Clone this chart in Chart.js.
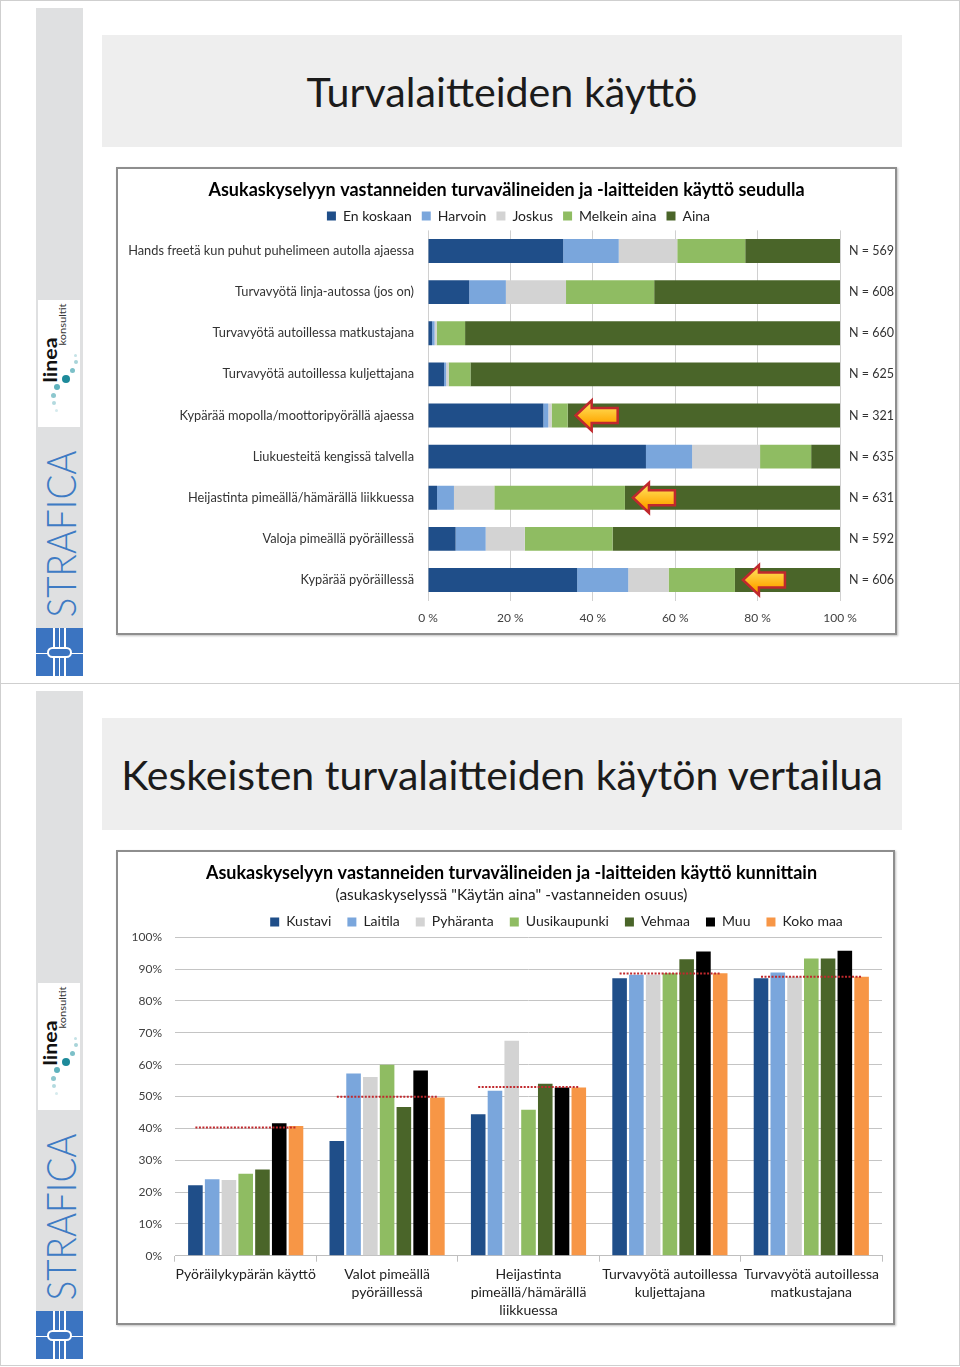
<!DOCTYPE html>
<html lang="fi">
<head>
<meta charset="utf-8">
<title>Turvalaitteiden käyttö</title>
<script src="https://cdn.jsdelivr.net/npm/chart.js@4.4.1/dist/chart.umd.min.js"></script>
<style>
  html, body { margin: 0; padding: 0; background: #fff; }
  body { width: 960px; height: 1367px; position: relative; overflow: hidden; font-family: Lato, "Noto Sans", sans-serif; }
  .slide { position: absolute; left: 0; width: 958px; height: 682px; border: 1px solid #cfcfcf; }
  .abs { position: absolute; }
  .kehys { position: absolute; background: #fff; border: 2px solid #8e8e8e; box-shadow: 1px 1px 2px rgba(0,0,0,0.25); }
  canvas { display: block; }
</style>
</head>
<body>
<div class="slide" style="top:0"></div>
<div class="slide" style="top:683px; border-top:none"></div>
<div id="deco"></div>
<div class="kehys" style="left:116px; top:167px; width:777px; height:464px;"><canvas id="c1" width="777" height="464"></canvas></div>
<div class="kehys" style="left:116px; top:850px; width:775px; height:471px;"><canvas id="c2" width="775" height="471"></canvas></div>

<script>
// --- kuva 1: turvavälineiden käyttö seudulla (%)
const otsikko1 = 'Asukaskyselyyn vastanneiden turvavälineiden ja -laitteiden käyttö seudulla';
const kategoriat1 = [
  'Hands freetä kun puhut puhelimeen autolla ajaessa',
  'Turvavyötä linja-autossa (jos on)',
  'Turvavyötä autoillessa matkustajana',
  'Turvavyötä autoillessa kuljettajana',
  'Kypärää mopolla/moottoripyörällä ajaessa',
  'Liukuesteitä kengissä talvella',
  'Heijastinta pimeällä/hämärällä liikkuessa',
  'Valoja pimeällä pyöräillessä',
  'Kypärää pyöräillessä'
];
const sarjat1 = ['En koskaan', 'Harvoin', 'Joskus', 'Melkein aina', 'Aina'];
const enKoskaan   = [32.8, 10.0, 1.0, 3.9, 28.0, 52.9, 2.2, 6.7, 36.2];
const harvoin     = [13.5, 8.9, 0.6, 0.5, 1.2, 11.2, 4.1, 7.3, 12.4];
const joskus      = [14.2, 14.6, 0.5, 0.6, 0.8, 16.5, 9.8, 9.5, 9.8];
const melkeinAina = [16.5, 21.4, 6.9, 5.3, 3.9, 12.4, 31.7, 21.3, 16.1];
const aina        = [23.0, 45.1, 91.0, 89.7, 66.1, 7.0, 52.2, 55.2, 25.5];
const nVastaajia  = [569, 608, 660, 625, 321, 635, 631, 592, 606];
const nuoliRivit  = [4, 6, 8];
const xTicks1     = [0, 20, 40, 60, 80, 100];

// --- kuva 2: "käytän aina" kunnittain (%)
const otsikko2 = 'Asukaskyselyyn vastanneiden turvavälineiden ja -laitteiden käyttö kunnittain';
const alaotsikko2 = '(asukaskyselyssä "Käytän aina" -vastanneiden osuus)';
const kategoriat2 = [
  ['Pyöräilykypärän käyttö'],
  ['Valot pimeällä', 'pyöräillessä'],
  ['Heijastinta', 'pimeällä/hämärällä', 'liikkuessa'],
  ['Turvavyötä autoillessa', 'kuljettajana'],
  ['Turvavyötä autoillessa', 'matkustajana']
];
const sarjat2 = ['Kustavi', 'Laitila', 'Pyhäranta', 'Uusikaupunki', 'Vehmaa', 'Muu', 'Koko maa'];
const kustavi      = [22.1, 36.0, 44.4, 87.1, 87.1];
const laitila      = [24.0, 57.2, 51.8, 88.2, 88.9];
const pyharanta    = [23.8, 56.1, 67.5, 88.2, 87.6];
const uusikaupunki = [25.7, 60.0, 45.8, 88.7, 93.3];
const vehmaa       = [27.1, 46.7, 54.0, 93.1, 93.3];
const muu          = [41.6, 58.2, 52.8, 95.5, 95.8];
const kokoMaa      = [40.7, 49.7, 52.8, 88.7, 87.6];
const seutu        = [40.3, 49.9, 53.0, 88.6, 87.6];   // punainen pisteviiva

const varit1 = ['#1f4e89', '#7aa6dc', '#d3d3d3', '#8fbc62', '#4a6529'];
const varit2 = ['#1f4e89', '#7aa6dc', '#d3d3d3', '#8fbc62', '#4a6529', '#000000', '#f79646'];

const FONT = 'Lato, "Noto Sans", sans-serif';
Chart.defaults.font.family = FONT;
Chart.defaults.color = '#404040';

// ---------- slide decoration ----------
const deco = document.getElementById('deco');
const mctx = document.createElement('canvas').getContext('2d');
function textW(font, t) { mctx.font = font; return mctx.measureText(t).width; }
function add(css, text) {
  const e = document.createElement('div');
  e.className = 'abs';
  e.style.cssText = css;
  if (text) e.textContent = text;
  deco.appendChild(e);
  return e;
}
function rotText(t, cx, cy, size, weight, color, len) {
  const f = `${weight} ${size}px ${FONT}`;
  const w = textW(f, t);
  const s = len / w;
  add(`left:${cx - w / 2}px;top:${cy - size / 2}px;width:${w}px;height:${size}px;font:${f};line-height:${size}px;` +
      `color:${color};white-space:nowrap;transform:rotate(-90deg) scaleX(${s});`, t);
}
function slide(dy, title, titleWidth) {
  add(`left:36px;top:${8 + dy}px;width:47px;height:620px;background:#dfe0e1;`);
  // linea konsultit
  add(`left:38px;top:${300 + dy}px;width:42px;height:127px;background:#fff;`);
  rotText('linea', 50, 359.5 + dy, 18, 'bold', '#111', 45);
  rotText('konsultit', 62.5, 324 + dy, 9, 'normal', '#333', 42);
  [[75, 355, 1.5, '#c4e2e6'], [75.7, 362.3, 2, '#a8d4d9'], [72.7, 370.7, 2.6, '#7cc0c8'],
   [65.7, 379.3, 4, '#1d8a9a'], [56.7, 386.7, 3.2, '#5fb2bd'], [53.3, 395, 2.5, '#8cc7ce'],
   [54, 403.3, 2, '#b3dadf'], [56.7, 410, 1.5, '#d6ebee']].forEach(([x, y, r, c]) => {
    add(`left:${x - r}px;top:${y - r + dy}px;width:${2 * r}px;height:${2 * r}px;border-radius:50%;background:${c};`);
  });
  rotText('STRAFICA', 60, 533.5 + dy, 42, '300', '#3e7bc4', 167);
  // blue mark
  const top = 628 + dy;
  add(`left:36px;top:${top}px;width:47px;height:48px;background:#3b74c1;`);
  [53, 58.5, 64].forEach(x => add(`left:${x}px;top:${top}px;width:1.5px;height:48px;background:#fff;`));
  add(`left:36px;top:${top + 24.5}px;width:47px;height:1.5px;background:#fff;`);
  add(`left:47px;top:${top + 19}px;width:25px;height:11px;box-sizing:border-box;border:2px solid #fff;border-radius:6px;background:#3b74c1;`);
  // title box
  const size = 40 * titleWidth / textW(`40px ${FONT}`, title);
  add(`left:102px;top:${35 + dy}px;width:800px;height:112px;background:#eeeeee;display:flex;align-items:center;` +
      `justify-content:center;white-space:nowrap;color:#1b1b1b;font:${size}px ${FONT};`, title);
}
slide(0, 'Turvalaitteiden käyttö', 391);
slide(683, 'Keskeisten turvalaitteiden käytön vertailua', 763);

// ---------- plugins ----------
// nudges title / subtitle / legend boxes after layout (Excel places them a bit off-centre)
const boxShift = {
  id: 'boxShift',
  afterLayout(chart, args, opts) {
    const main = chart.options.plugins.title.text;
    chart.boxes.forEach(b => {
      let d = null;
      if (b === chart.legend) d = opts.legend;
      else if (b.options && typeof b.options.text === 'string') d = b.options.text === main ? opts.title : opts.subtitle;
      if (!d) return;
      b.left += d.dx; b.right += d.dx; b.top += d.dy; b.bottom += d.dy;
    });
  }
};

const nuolet = {
  id: 'nuolet',
  afterDatasetsDraw(chart) {
    const { ctx, scales: { x, y } } = chart;
    nuoliRivit.forEach(r => {
      const raja = enKoskaan[r] + harvoin[r] + joskus[r] + melkeinAina[r];
      const xt = x.getPixelForValue(raja) + 8;
      const yc = y.getPixelForValue(r);
      ctx.save();
      ctx.beginPath();
      ctx.moveTo(xt, yc);
      ctx.lineTo(xt + 16, yc - 15);
      ctx.lineTo(xt + 16, yc - 7.5);
      ctx.lineTo(xt + 42, yc - 7.5);
      ctx.lineTo(xt + 42, yc + 7.5);
      ctx.lineTo(xt + 16, yc + 7.5);
      ctx.lineTo(xt + 16, yc + 15);
      ctx.closePath();
      const g = ctx.createLinearGradient(0, yc - 8, 0, yc + 8);
      g.addColorStop(0, '#ffd54a');
      g.addColorStop(1, '#ffa600');
      ctx.fillStyle = g;
      ctx.fill();
      ctx.strokeStyle = '#c0282d';
      ctx.lineWidth = 2.5;
      ctx.stroke();
      ctx.restore();
    });
  }
};

const seutuViiva = {
  id: 'seutuViiva',
  afterDatasetsDraw(chart) {
    const { ctx, scales: { y } } = chart;
    const eka = chart.getDatasetMeta(0).data;
    const vika = chart.getDatasetMeta(sarjat2.length - 1).data;
    ctx.save();
    ctx.setLineDash([2, 1.5]);
    ctx.strokeStyle = '#c0282d';
    ctx.lineWidth = 2;
    seutu.forEach((v, i) => {
      const yy = y.getPixelForValue(v);
      ctx.beginPath();
      ctx.moveTo(eka[i].x, yy);
      ctx.lineTo(vika[i].x, yy);
      ctx.stroke();
    });
    ctx.restore();
  }
};

// ---------- chart 1 ----------
const arvot1 = [enKoskaan, harvoin, joskus, melkeinAina, aina];
new Chart(document.getElementById('c1'), {
  type: 'bar',
  data: {
    labels: kategoriat1,
    datasets: sarjat1.map((nimi, i) => ({
      label: nimi,
      data: arvot1[i],
      backgroundColor: varit1[i],
      categoryPercentage: 0.58,
      barPercentage: 1
    }))
  },
  options: {
    indexAxis: 'y',
    responsive: false,
    animation: false,
    layout: { padding: 0 },
    scales: {
      x: {
        stacked: true, min: 0, max: 100,
        afterBuildTicks: s => { s.ticks = xTicks1.map(v => ({ value: v })); },
        ticks: { callback: v => v + ' %', padding: 10, color: '#404040', font: { size: 12 } },
        grid: { color: '#d0d0d0', drawTicks: false },
        border: { display: false },
        afterFit: s => { s.height = 32.4; }
      },
      y: {
        stacked: true,
        grid: { display: false, drawTicks: false },
        border: { display: false },
        ticks: { padding: 14, color: '#333', font: { size: 12.8 }, autoSkip: false },
        afterFit: s => { s.width = 310; }
      },
      yN: {
        type: 'category', position: 'right', offset: true,
        labels: nVastaajia.map(n => 'N = ' + n),
        grid: { display: false, drawTicks: false },
        border: { display: false },
        ticks: { padding: 9, color: '#333', font: { size: 12.5 }, autoSkip: false },
        afterFit: s => { s.width = 55; }
      }
    },
    plugins: {
      title: { display: true, text: otsikko1, color: '#000', font: { size: 18, weight: 'bold' }, padding: { top: 5.8, bottom: 0 } },
      legend: { labels: { boxWidth: 9, boxHeight: 9, padding: 10, color: '#222', font: { size: 14 } } },
      tooltip: { enabled: false },
      boxShift: { title: { dx: 0, dy: 4.4 }, legend: { dx: 12, dy: 2.6 } }
    }
  },
  plugins: [boxShift, nuolet]
});

// ---------- chart 2 ----------
const arvot2 = [kustavi, laitila, pyharanta, uusikaupunki, vehmaa, muu, kokoMaa];
new Chart(document.getElementById('c2'), {
  type: 'bar',
  data: {
    labels: kategoriat2,
    datasets: sarjat2.map((nimi, i) => ({
      label: nimi,
      data: arvot2[i],
      backgroundColor: varit2[i],
      categoryPercentage: 0.83,
      barPercentage: 0.87
    }))
  },
  options: {
    responsive: false,
    animation: false,
    layout: { padding: { right: 11 } },
    scales: {
      x: {
        grid: { drawOnChartArea: false, tickLength: 6, color: '#bfbfbf' },
        border: { color: '#bfbfbf' },
        ticks: { padding: 4, color: '#222', font: { size: 14, lineHeight: 1.29 }, maxRotation: 0, autoSkip: false },
        afterFit: s => { s.height = 67.3; }
      },
      y: {
        min: 0, max: 100,
        ticks: { stepSize: 10, callback: v => v + '%', padding: 13, color: '#404040', font: { size: 12 } },
        grid: { color: '#c4c4c4', drawTicks: false },
        border: { display: false },
        afterFit: s => { s.width = 57; }
      }
    },
    plugins: {
      title: { display: true, text: otsikko2, color: '#000', font: { size: 18, weight: 'bold' }, padding: { top: 5.2, bottom: 0 } },
      subtitle: { display: true, text: alaotsikko2, color: '#222', font: { size: 15.4 }, padding: { top: 0, bottom: 0 } },
      legend: { labels: { boxWidth: 9, boxHeight: 9, padding: 16, color: '#222', font: { size: 14 } } },
      tooltip: { enabled: false },
      boxShift: { title: { dx: 11.5, dy: 5 }, subtitle: { dx: 11.5, dy: 6.95 }, legend: { dx: 56.5, dy: 1.7 } }
    }
  },
  plugins: [boxShift, seutuViiva]
});
</script>
</body>
</html>
